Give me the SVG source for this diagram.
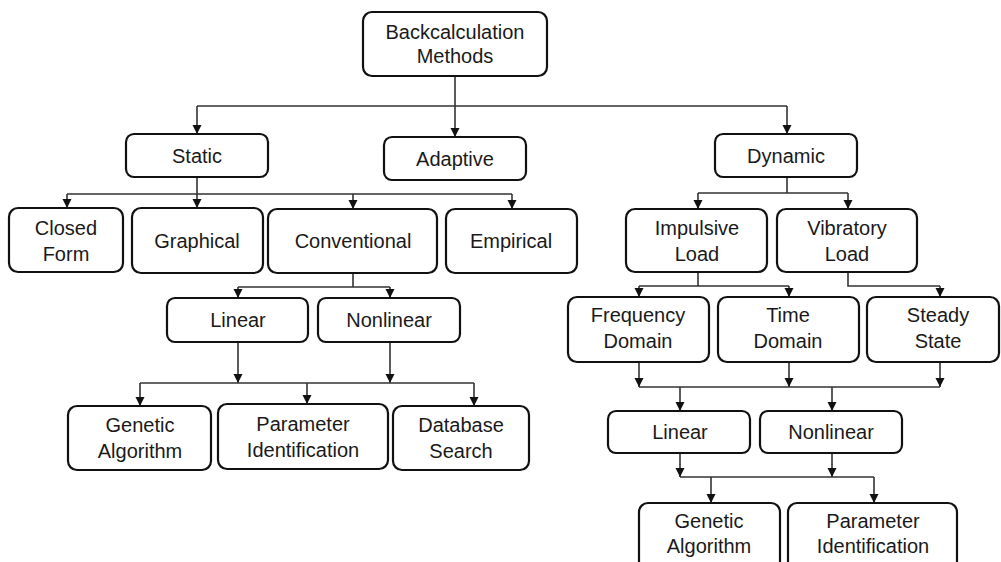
<svg xmlns="http://www.w3.org/2000/svg" width="1001" height="562" viewBox="0 0 1001 562">
  <style>
    .box { fill: #fff; stroke: #111; stroke-width: 2.2; }
    .lbl { font-family: "Liberation Sans", Arial, sans-serif; font-size: 20px; fill: #1a1a1a; text-anchor: middle; }
    .wire { fill: none; stroke: #333; stroke-width: 1.6; }
    .arrow { fill: none; stroke: #333; stroke-width: 1.6; marker-end: url(#head); }
  </style>
  <defs>
    <marker id="head" markerUnits="userSpaceOnUse" markerWidth="10" markerHeight="10" refX="9" refY="5" orient="auto">
      <path d="M0,0.5 L9,5 L0,9.5 z" fill="#111"/>
    </marker>
  </defs>
  <rect width="1001" height="562" fill="#fff"/>

  <!-- connectors -->
  <g id="connectors">
    <!-- root to first level -->
    <path class="wire" d="M455,76 V106 M197,106 H787"/>
    <path class="arrow" d="M197,106 V134"/>
    <path class="arrow" d="M455,106 V137"/>
    <path class="arrow" d="M787,106 V134"/>

    <!-- Static branch -->
    <path class="wire" d="M197,177 V194 M67,194 H512"/>
    <path class="arrow" d="M67,194 V208"/>
    <path class="arrow" d="M197,194 V208"/>
    <path class="arrow" d="M353,194 V209"/>
    <path class="arrow" d="M512,194 V209"/>

    <!-- Conventional to Linear / Nonlinear -->
    <path class="wire" d="M353,273 V287 M238,287 H390"/>
    <path class="arrow" d="M238,287 V298"/>
    <path class="arrow" d="M390,287 V298"/>

    <!-- Linear / Nonlinear to static solvers -->
    <path class="arrow" d="M238,342 V383"/>
    <path class="arrow" d="M390,342 V383"/>
    <path class="wire" d="M140,383 H474"/>
    <path class="arrow" d="M140,383 V406"/>
    <path class="arrow" d="M307,383 V404"/>
    <path class="arrow" d="M474,383 V406"/>

    <!-- Dynamic branch -->
    <path class="wire" d="M787,177 V193 M698,193 H848"/>
    <path class="arrow" d="M698,193 V209"/>
    <path class="arrow" d="M848,193 V209"/>

    <!-- Impulsive load -->
    <path class="wire" d="M698,272 V286 M639,286 H789"/>
    <path class="arrow" d="M639,286 V297"/>
    <path class="arrow" d="M789,286 V297"/>

    <!-- Vibratory load -->
    <path class="wire" d="M848,272 V286 H940"/>
    <path class="arrow" d="M940,286 V297"/>

    <!-- domains merge -->
    <path class="arrow" d="M639,362 V387"/>
    <path class="arrow" d="M789,362 V387"/>
    <path class="arrow" d="M940,362 V387"/>
    <path class="wire" d="M639,387 H940"/>
    <path class="arrow" d="M680,387 V411"/>
    <path class="arrow" d="M832,387 V411"/>

    <!-- dynamic Linear / Nonlinear to solvers -->
    <path class="arrow" d="M680,453 V477"/>
    <path class="arrow" d="M832,453 V477"/>
    <path class="wire" d="M680,477 H874"/>
    <path class="arrow" d="M711,477 V503"/>
    <path class="arrow" d="M874,477 V503"/>
  </g>

  <g id="root">
    <rect class="box" x="363" y="12" width="184" height="64" rx="9"/>
    <text class="lbl" x="455" y="39">Backcalculation</text>
    <text class="lbl" x="455" y="63">Methods</text>
  </g>

  <g id="static">
    <rect class="box" x="126" y="134" width="142" height="43" rx="8"/>
    <text class="lbl" x="197" y="163">Static</text>
  </g>
  <g id="adaptive">
    <rect class="box" x="384" y="137" width="142" height="43" rx="8"/>
    <text class="lbl" x="455" y="166">Adaptive</text>
  </g>
  <g id="dynamic">
    <rect class="box" x="715" y="134" width="142" height="43" rx="8"/>
    <text class="lbl" x="786" y="163">Dynamic</text>
  </g>

  <g id="closed-form">
    <rect class="box" x="9" y="208" width="114" height="64" rx="9"/>
    <text class="lbl" x="66" y="235">Closed</text>
    <text class="lbl" x="66" y="261">Form</text>
  </g>
  <g id="graphical">
    <rect class="box" x="132" y="208" width="131" height="65" rx="9"/>
    <text class="lbl" x="197" y="248">Graphical</text>
  </g>
  <g id="conventional">
    <rect class="box" x="268" y="209" width="169" height="64" rx="9"/>
    <text class="lbl" x="353" y="248">Conventional</text>
  </g>
  <g id="empirical">
    <rect class="box" x="446" y="209" width="131" height="64" rx="9"/>
    <text class="lbl" x="511" y="248">Empirical</text>
  </g>

  <g id="static-linear">
    <rect class="box" x="167" y="298" width="141" height="44" rx="8"/>
    <text class="lbl" x="238" y="327">Linear</text>
  </g>
  <g id="static-nonlinear">
    <rect class="box" x="318" y="298" width="142" height="44" rx="8"/>
    <text class="lbl" x="389" y="327">Nonlinear</text>
  </g>

  <g id="static-genetic">
    <rect class="box" x="68" y="406" width="143" height="64" rx="9"/>
    <text class="lbl" x="140" y="432">Genetic</text>
    <text class="lbl" x="140" y="458">Algorithm</text>
  </g>
  <g id="static-parameter">
    <rect class="box" x="218" y="404" width="170" height="65" rx="9"/>
    <text class="lbl" x="303" y="431">Parameter</text>
    <text class="lbl" x="303" y="457">Identification</text>
  </g>
  <g id="database">
    <rect class="box" x="393" y="406" width="136" height="64" rx="9"/>
    <text class="lbl" x="461" y="432">Database</text>
    <text class="lbl" x="461" y="458">Search</text>
  </g>

  <g id="impulsive">
    <rect class="box" x="626" y="209" width="141" height="63" rx="9"/>
    <text class="lbl" x="697" y="235">Impulsive</text>
    <text class="lbl" x="697" y="261">Load</text>
  </g>
  <g id="vibratory">
    <rect class="box" x="777" y="209" width="140" height="63" rx="9"/>
    <text class="lbl" x="847" y="235">Vibratory</text>
    <text class="lbl" x="847" y="261">Load</text>
  </g>

  <g id="frequency">
    <rect class="box" x="568" y="297" width="141" height="65" rx="9"/>
    <text class="lbl" x="638" y="322">Frequency</text>
    <text class="lbl" x="638" y="348">Domain</text>
  </g>
  <g id="time">
    <rect class="box" x="718" y="297" width="141" height="65" rx="9"/>
    <text class="lbl" x="788" y="322">Time</text>
    <text class="lbl" x="788" y="348">Domain</text>
  </g>
  <g id="steady">
    <rect class="box" x="867" y="297" width="132" height="65" rx="9"/>
    <text class="lbl" x="938" y="322">Steady</text>
    <text class="lbl" x="938" y="348">State</text>
  </g>

  <g id="dynamic-linear">
    <rect class="box" x="608" y="411" width="142" height="42" rx="8"/>
    <text class="lbl" x="680" y="439">Linear</text>
  </g>
  <g id="dynamic-nonlinear">
    <rect class="box" x="760" y="411" width="142" height="42" rx="8"/>
    <text class="lbl" x="831" y="439">Nonlinear</text>
  </g>

  <g id="dynamic-genetic">
    <rect class="box" x="639" y="503" width="141" height="72" rx="9"/>
    <text class="lbl" x="709" y="528">Genetic</text>
    <text class="lbl" x="709" y="553">Algorithm</text>
  </g>
  <g id="dynamic-parameter">
    <rect class="box" x="788" y="503" width="169" height="72" rx="9"/>
    <text class="lbl" x="873" y="528">Parameter</text>
    <text class="lbl" x="873" y="553">Identification</text>
  </g>
</svg>
